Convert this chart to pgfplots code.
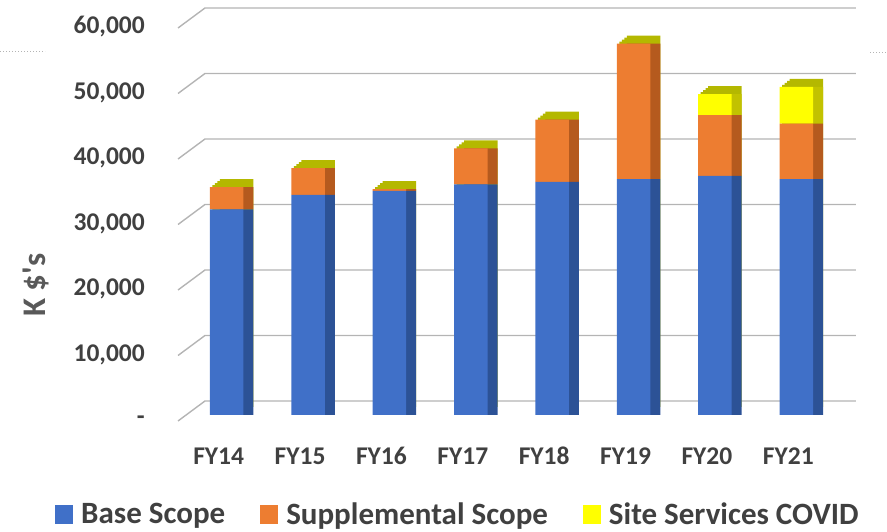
\documentclass[border=0pt]{standalone}
\usepackage{pgfplots}
\pgfplotsset{compat=1.18}
\usepackage{pgfplotstable}
\usepackage{fontspec}
\setmainfont{Carlito}[Ligatures=TeXOff]

\definecolor{bluef}{HTML}{4070C8}
\definecolor{blues}{HTML}{2C5296}
\definecolor{orangef}{HTML}{ED7D31}
\definecolor{oranges}{HTML}{B55A1E}
\definecolor{yellowf}{HTML}{FFFF00}
\definecolor{yellows}{HTML}{C2C200}
\definecolor{topc}{HTML}{B4B800}
\definecolor{txt}{HTML}{404040}
\definecolor{ylab}{HTML}{595959}
\definecolor{gridc}{HTML}{B4B4B4}

\pgfplotstableread{
x base supp covid
0 31400 3400 0
1 33600 4100 0
2 34200 300 0
3 35200 5500 0
4 35600 9500 0
5 36000 20700 0
6 36500 9300 3200
7 36000 8500 5600
}\datatable

\pgfplotsset{
  frame/.style={at={(186pt,117pt)}, anchor=south west, scale only axis,
    width=651pt, height=393pt, xmin=-0.5, xmax=7.5, ymin=0, ymax=60000, clip=false},
  sqlegend/.style={legend image code/.code={\fill[##1] (0pt,-9.5pt) rectangle (18pt,9.5pt);}},
  topface/.style={ybar, bar width=33.5pt, fill=topc, draw=none}
}

\begin{document}
\begin{tikzpicture}
\useasboundingbox (0,0) rectangle (887pt,532pt);
\draw[gridc, dotted, line width=1pt] (0pt,480pt) -- (45pt,480pt);
\draw[gridc, dotted, line width=1pt] (870pt,479pt) -- (887pt,479pt);

% background: grid, ticks, bar tops
\begin{axis}[frame,
  axis line style={draw=none}, major tick length=0pt,
  scaled y ticks=false,
  xtick={0,1,2,3,4,5,6,7},
  xticklabels={FY14,FY15,FY16,FY17,FY18,FY19,FY20,FY21},
  ytick={0,10000,20000,30000,40000,50000,60000},
  yticklabels={{-\hspace{12pt}},{10,000},{20,000},{30,000},{40,000},{50,000},{60,000}},
  tick label style={font=\bfseries\fontsize{25.5}{30}\selectfont, text=txt, inner sep=0pt},
  xticklabel style={anchor=center, yshift=-41pt, xshift=-8pt},
  yticklabel style={anchor=east, xshift=-41pt, yshift=-5pt},
  ylabel={K \$'s},
  every axis y label/.style={at={(rel axis cs:-0.2304,0.3308)}, rotate=90, anchor=center,
    font=\bfseries\fontsize{33}{38}\selectfont, text=ylab}]
\pgfplotsinvokeforeach{0,10000,20000,30000,40000,50000,60000}{
  \draw[gridc, line width=1.4pt]
    ([xshift=-8pt,yshift=-6pt]axis cs:-0.5,#1) --
    ([xshift=19pt,yshift=14pt]axis cs:-0.5,#1) --
    ([xshift=19pt,yshift=14pt]axis cs:7.5,#1);
}
\addplot[topface, xshift=10pt, yshift=8pt]
  table[x=x, y expr=\thisrow{base}+\thisrow{supp}+\thisrow{covid}] {\datatable};
\addplot[topface, xshift=7.5pt, yshift=6pt]
  table[x=x, y expr=\thisrow{base}+\thisrow{supp}+\thisrow{covid}] {\datatable};
\addplot[topface, xshift=5pt, yshift=4pt]
  table[x=x, y expr=\thisrow{base}+\thisrow{supp}+\thisrow{covid}] {\datatable};
\addplot[topface, xshift=2.5pt, yshift=2pt]
  table[x=x, y expr=\thisrow{base}+\thisrow{supp}+\thisrow{covid}] {\datatable};
\end{axis}

% side faces
\begin{axis}[frame, hide axis, ybar stacked, bar width=33.5pt]
\addplot[fill=blues, draw=none, xshift=10pt] table[x=x, y=base] {\datatable};
\addplot[fill=oranges, draw=none, xshift=10pt] table[x=x, y=supp] {\datatable};
\addplot[fill=yellows, draw=none, xshift=10pt] table[x=x, y=covid] {\datatable};
\end{axis}

% front faces
\begin{axis}[frame, hide axis, ybar stacked, bar width=33.5pt,
  legend columns=3,
  legend style={draw=none, fill=none, at={(rel axis cs:0.4163,-0.252)}, anchor=center,
    font=\bfseries\fontsize{31}{36}\selectfont, text=txt, inner sep=0pt,
    nodes={inner sep=0pt},
    /tikz/every odd column/.append style={column sep=8pt},
    /tikz/every even column/.append style={column sep=35pt}},
  legend cell align=left]
\addplot[fill=bluef, draw=none, sqlegend] table[x=x, y=base] {\datatable};
\addlegendentry{Base Scope}
\addplot[fill=orangef, draw=none, sqlegend] table[x=x, y=supp] {\datatable};
\addlegendentry{Supplemental Scope}
\addplot[fill=yellowf, draw=none, sqlegend] table[x=x, y=covid] {\datatable};
\addlegendentry{Site Services COVID}
\end{axis}
\end{tikzpicture}
\end{document}
